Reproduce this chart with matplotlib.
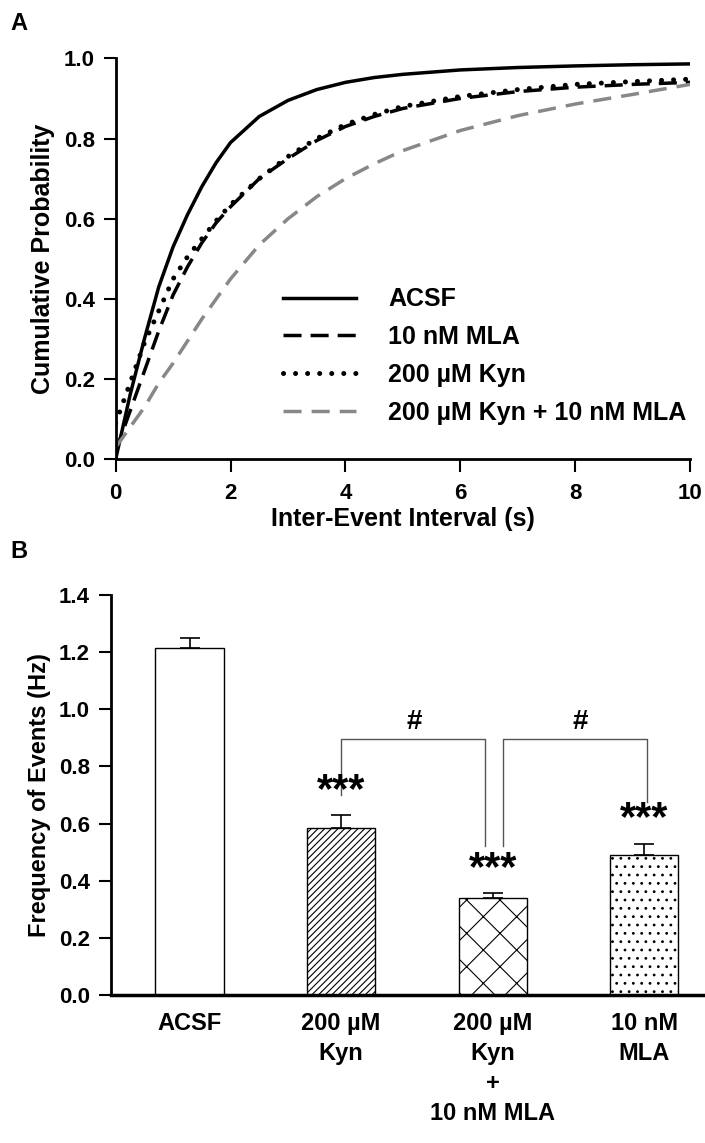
import matplotlib
matplotlib.use("Agg")
import matplotlib.pyplot as plt

plt.rcParams["font.family"] = ["Liberation Sans", "DejaVu Sans"]
plt.rcParams["font.weight"] = "bold"
plt.rcParams["hatch.linewidth"] = 0.8

# Panel A: cumulative probability curves
t = [0, 0.25, 0.5, 0.75, 1, 1.25, 1.5, 1.75, 2, 2.5, 3, 3.5, 4, 4.5, 5, 6, 7, 8, 9, 10]
acsf_cdf = [0.0, 0.16, 0.30, 0.43, 0.53, 0.61, 0.68, 0.74, 0.79, 0.855, 0.895, 0.922,
            0.94, 0.952, 0.96, 0.971, 0.977, 0.981, 0.984, 0.986]
mla_cdf = [0.02, 0.12, 0.22, 0.32, 0.41, 0.48, 0.54, 0.59, 0.63, 0.70, 0.75, 0.795,
           0.83, 0.855, 0.875, 0.90, 0.917, 0.928, 0.935, 0.94]
kyn_cdf = [0.09, 0.19, 0.29, 0.37, 0.45, 0.505, 0.55, 0.595, 0.635, 0.70, 0.755, 0.80,
           0.835, 0.86, 0.88, 0.905, 0.922, 0.935, 0.942, 0.948]
kyn_mla_cdf = [0.03, 0.08, 0.13, 0.19, 0.24, 0.295, 0.35, 0.40, 0.45, 0.535, 0.60,
               0.655, 0.70, 0.737, 0.77, 0.82, 0.857, 0.886, 0.91, 0.935]

# Panel B: mean frequency +/- SEM
groups = ["ACSF", "200 µM\nKyn", "200 µM\nKyn\n+\n10 nM MLA", "10 nM\nMLA"]
freq = [1.215, 0.585, 0.338, 0.49]
sem = [0.035, 0.045, 0.018, 0.04]
hatches = ["", "/////", "x", ".."]

fig = plt.figure(figsize=(7.05, 11.43), dpi=100)

# ---------- A ----------
ax = fig.add_axes([0.164, 0.598, 0.815, 0.351])
ax.plot(t, acsf_cdf, color="black", lw=2.5, label="ACSF")
ax.plot(t, mla_cdf, color="black", lw=2.5, ls=(0, (5.2, 2.6)), label="10 nM MLA")
ax.plot(t, kyn_cdf, color="black", lw=3.6, ls=(0, (0.01, 2.4)),
        dash_capstyle="round", label="200 µM Kyn")
ax.plot(t, kyn_mla_cdf, color="#888888", lw=2.5, ls=(0, (5.2, 2.9)),
        label="200 µM Kyn + 10 nM MLA")
ax.set_xlim(0, 10)
ax.set_ylim(0, 1.0)
ax.set_xticks([0, 2, 4, 6, 8, 10])
ax.set_yticks([0, 0.2, 0.4, 0.6, 0.8, 1.0])
ax.set_yticklabels(["0.0", "0.2", "0.4", "0.6", "0.8", "1.0"])
for s in ["top", "right"]:
    ax.spines[s].set_visible(False)
for s in ["left", "bottom"]:
    ax.spines[s].set_linewidth(2)
ax.tick_params(direction="out", length=9, width=1.5, labelsize=16, pad=6)
ax.tick_params(axis="x", pad=8)
ax.set_xlabel("Inter-Event Interval (s)", fontsize=18, fontweight="bold", labelpad=2)
ax.set_ylabel("Cumulative Probability", fontsize=18, fontweight="bold", labelpad=6)
ax.legend(loc="upper left", bbox_to_anchor=(0.27, 0.46), frameon=False,
          fontsize=18, handlelength=2.9, handletextpad=1.3, labelspacing=0.55,
          borderpad=0)
fig.text(0.015, 0.974, "A", fontsize=17, fontweight="bold")

# ---------- B ----------
bx = fig.add_axes([0.157, 0.1295, 0.843, 0.35])
xpos = range(len(groups))
bx.bar(xpos, freq, width=0.45, color="white", edgecolor="black", lw=1,
       hatch=hatches, zorder=2)
bx.errorbar(xpos, freq, yerr=[[0] * len(sem), sem], fmt="none", ecolor="black",
            elinewidth=1.2, capsize=7, capthick=1.2, zorder=1)
bx.set_xlim(-0.52, 3.4)
bx.set_ylim(0, 1.4)
bx.set_yticks([0, 0.2, 0.4, 0.6, 0.8, 1.0, 1.2, 1.4])
bx.set_yticklabels(["0.0", "0.2", "0.4", "0.6", "0.8", "1.0", "1.2", "1.4"])
bx.set_xticks(list(xpos))
bx.set_xticklabels(groups, fontsize=17, fontweight="bold", linespacing=1.4)
bx.tick_params(axis="x", length=0, pad=12)
bx.tick_params(axis="y", direction="out", length=9, width=1.5, labelsize=16, pad=6)
for s in ["top", "right"]:
    bx.spines[s].set_visible(False)
bx.spines["left"].set_linewidth(2)
bx.spines["bottom"].set_linewidth(2.5)
bx.set_ylabel("Frequency of Events (Hz)", fontsize=17, fontweight="bold", labelpad=6)

# significance stars
for i in [1, 2, 3]:
    bx.text(i, freq[i] + sem[i] + 0.015, "***", ha="center", va="bottom",
            fontsize=30, fontweight="bold")

# brackets
gray = "#555555"
bx.plot([1, 1, 1.95, 1.95], [0.70, 0.895, 0.895, 0.52], color=gray, lw=1)
bx.plot([2.07, 2.07, 3.02, 3.02], [0.52, 0.895, 0.895, 0.675], color=gray, lw=1)
bx.text(1.48, 0.91, "#", ha="center", va="bottom", fontsize=20, fontweight="bold")
bx.text(2.58, 0.91, "#", ha="center", va="bottom", fontsize=20, fontweight="bold")
fig.text(0.015, 0.512, "B", fontsize=17, fontweight="bold")

fig.savefig("out.png", dpi=100)
